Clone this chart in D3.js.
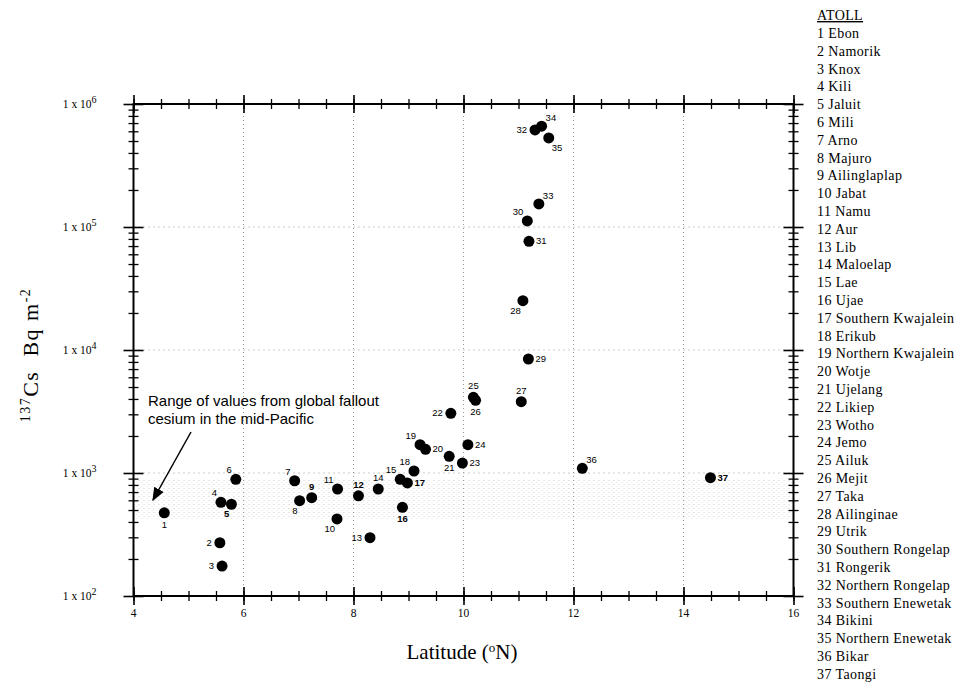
<!DOCTYPE html>
<html>
<head>
<meta charset="utf-8">
<script src="https://cdn.jsdelivr.net/npm/d3@7"></script>
<style>
  body { margin: 0; background: #fff; }
  svg text { fill: #000; }
</style>
</head>
<body>
<div id="svgContainer"></div>
<script>
// atoll number, name, latitude, 137Cs (Bq m-2)
var atollIds = d3.range(1, 38);
var atollNames = ["Ebon", "Namorik", "Knox", "Kili", "Jaluit", "Mili", "Arno", "Majuro",
    "Ailinglaplap", "Jabat", "Namu", "Aur", "Lib", "Maloelap", "Lae", "Ujae",
    "Southern Kwajalein", "Erikub", "Northern Kwajalein", "Wotje", "Ujelang", "Likiep",
    "Wotho", "Jemo", "Ailuk", "Mejit", "Taka", "Ailinginae", "Utrik", "Southern Rongelap",
    "Rongerik", "Northern Rongelap", "Southern Enewetak", "Bikini", "Northern Enewetak",
    "Bikar", "Taongi"];
var latitude = [4.56, 5.57, 5.61, 5.59, 5.78, 5.86, 6.93, 7.02, 7.24, 7.70, 7.71, 8.09,
    8.30, 8.45, 8.85, 8.89, 8.98, 9.10, 9.21, 9.31, 9.74, 9.77, 9.98, 10.08, 10.18, 10.22,
    11.05, 11.08, 11.18, 11.16, 11.19, 11.30, 11.37, 11.42, 11.55, 12.16, 14.49];
var cesium = [475, 271, 175, 578, 557, 889, 865, 596, 630, 423, 741, 653, 298, 741, 889,
    526, 830, 1038, 1698, 1559, 1367, 3057, 1205, 1698, 4120, 3899, 3800, 25200, 8450,
    112000, 76500, 615000, 154000, 660000, 530000, 1092, 916];
// side of the point where each number label sits
var labelSide = ["b", "l", "l", "tl", "bl", "tl", "tl", "bl", "t", "bl", "tl", "t", "l",
    "t", "tl", "b", "r", "tl", "tl", "r", "b", "l", "r", "r", "t", "b", "t", "bl", "r",
    "tl", "r", "l", "tr", "tr", "br", "tr", "r"];
var boldLabels = [5, 9, 12, 16, 17, 37];

var xTicks = [4, 6, 8, 10, 12, 14, 16];
var xMinorTicks = d3.range(4, 16.01, 0.5);
var yTicks = [1e2, 1e3, 1e4, 1e5, 1e6];
var yExponents = ["2", "3", "4", "5", "6"];
var rangeBand = [420, 900]; // global fallout range

var margin = {top: 104, left: 133.5},
    width = 660,
    height = 492;
var serif = "'Liberation Serif', 'Times New Roman', serif";
var sans = "'Liberation Sans', Arial, sans-serif";

var svg = d3.select("#svgContainer").append("svg")
    .attr("width", 974).attr("height", 685);

// speckle pattern for the fallout range band
var defs = svg.append("defs");
var pat = defs.append("pattern").attr("id", "speckle")
    .attr("width", 5).attr("height", 4).attr("patternUnits", "userSpaceOnUse");
pat.append("rect").attr("width", 1).attr("height", 1).attr("fill", "#b0b0b0");
pat.append("rect").attr("x", 3).attr("y", 2).attr("width", 1).attr("height", 1).attr("fill", "#d0d0d0");

var g = svg.append("g")
    .attr("transform", "translate(" + margin.left + "," + margin.top + ")");

var x = d3.scaleLinear().domain([4, 16]).range([0, width]);
var y = d3.scaleLog().domain([1e2, 1e6]).range([height, 0]);

// band
g.append("rect")
    .attr("x", 0).attr("width", width)
    .attr("y", y(rangeBand[1])).attr("height", y(rangeBand[0]) - y(rangeBand[1]))
    .attr("fill", "url(#speckle)").attr("opacity", 0.6);

// gridlines
g.selectAll(".vgrid").data(xTicks.slice(1, -1)).enter().append("line")
    .attr("x1", d => x(d)).attr("x2", d => x(d))
    .attr("y1", 0).attr("y2", height)
    .style("stroke", "#999").style("stroke-width", 1).style("stroke-dasharray", "1,3");
g.selectAll(".hgrid").data(yTicks.slice(1, -1)).enter().append("line")
    .attr("x1", 0).attr("x2", width)
    .attr("y1", d => y(d)).attr("y2", d => y(d))
    .style("stroke", "#999").style("stroke-width", 1).style("stroke-dasharray", "1,4");

// minor y ticks 2..9 per decade
var yMinor = [];
yTicks.slice(0, -1).forEach(function(d) {
    for (var k = 2; k <= 9; k++) yMinor.push(d * k);
});

function styleAxis(sel, w) {
    sel.select(".domain").remove();
    sel.selectAll("line").style("stroke", "#000").style("stroke-width", w);
    sel.selectAll("text").remove();
}

// ticks crossing both sides of each of the four axis lines
[[0, d3.axisLeft, d3.axisRight], [width, d3.axisLeft, d3.axisRight]].forEach(function(a) {
    [a[1], a[2]].forEach(function(ax) {
        g.append("g").attr("transform", "translate(" + a[0] + ",0)")
            .call(ax(y).tickValues(yTicks).tickSize(10)).call(styleAxis, 1.6);
        g.append("g").attr("transform", "translate(" + a[0] + ",0)")
            .call(ax(y).tickValues(yMinor).tickSize(5)).call(styleAxis, 1.3);
    });
});
[[0, d3.axisTop, d3.axisBottom], [height, d3.axisTop, d3.axisBottom]].forEach(function(a) {
    [a[1], a[2]].forEach(function(ax) {
        g.append("g").attr("transform", "translate(0," + a[0] + ")")
            .call(ax(x).tickValues(xTicks).tickSize(9)).call(styleAxis, 1.6);
        g.append("g").attr("transform", "translate(0," + a[0] + ")")
            .call(ax(x).tickValues(xMinorTicks).tickSize(5)).call(styleAxis, 1.3);
    });
});

// frame
g.append("rect").attr("width", width).attr("height", height)
    .attr("fill", "none").style("stroke", "#000").style("stroke-width", 2);

// y tick labels
var ylab = g.selectAll(".ylab").data(yTicks).enter().append("text")
    .attr("x", -37).attr("y", d => y(d) + 4)
    .attr("text-anchor", "end")
    .style("font-family", serif)
    .style("font-size", "11.5px");
ylab.append("tspan").text("1 x 10");
ylab.append("tspan").attr("dy", -5).style("font-size", "10px")
    .text((d, i) => yExponents[i]);

// x tick labels
g.selectAll(".xlab").data(xTicks).enter().append("text")
    .attr("x", d => x(d)).attr("y", height + 21)
    .attr("text-anchor", "middle")
    .style("font-family", serif)
    .style("font-size", "11.5px")
    .text(d => d);

// axis titles
svg.append("text")
    .attr("x", 462).attr("y", 659)
    .attr("text-anchor", "middle")
    .style("font-family", serif)
    .style("font-size", "21px")
    .html('Latitude (<tspan dy="-7" font-size="13px">o</tspan><tspan dy="7">N)</tspan>');

var yt = svg.append("text")
    .attr("transform", "translate(38,355) rotate(-90)")
    .attr("text-anchor", "middle")
    .style("font-family", serif)
    .style("font-size", "22px")
    .style("letter-spacing", "1.5px");
yt.append("tspan").attr("dy", -8).style("font-size", "14px").text("137");
yt.append("tspan").attr("dy", 8).text("Cs\u00a0\u00a0Bq m");
yt.append("tspan").attr("dy", -8).style("font-size", "14px").text("-2");

// annotation + arrow
defs.append("marker").attr("id", "arrow")
    .attr("viewBox", "0 0 10 10").attr("refX", 9).attr("refY", 5)
    .attr("markerWidth", 9).attr("markerHeight", 9).attr("orient", "auto")
    .append("path").attr("d", "M0,1 L10,5 L0,9 Z").attr("fill", "#000");
svg.append("line")
    .attr("x1", 191).attr("y1", 432).attr("x2", 153).attr("y2", 500)
    .style("stroke", "#000").style("stroke-width", 1.5)
    .attr("marker-end", "url(#arrow)");
var ann = svg.append("text")
    .attr("x", 148).attr("y", 406)
    .style("font-family", sans)
    .style("font-size", "15px");
ann.append("tspan").attr("x", 148).text("Range of values from global fallout");
ann.append("tspan").attr("x", 148).attr("dy", 18).text("cesium in the mid-Pacific");

// points
var pts = atollIds.map(function(id, i) {
    return {id: id, lat: latitude[i], cs: cesium[i], side: labelSide[i]};
});
g.selectAll(".pt").data(pts).enter().append("circle")
    .attr("cx", d => x(d.lat)).attr("cy", d => y(d.cs))
    .attr("r", 5.5).attr("fill", "#000");

var off = {
    l: [-8, 3, "end"], r: [7, 3, "start"], t: [0, -8, "middle"], b: [0, 15, "middle"],
    tl: [-4, -6, "end"], tr: [4, -5, "start"], bl: [-2, 13, "end"], br: [3, 13, "start"]
};
g.selectAll(".plab").data(pts).enter().append("text")
    .attr("x", d => x(d.lat) + off[d.side][0])
    .attr("y", d => y(d.cs) + off[d.side][1])
    .attr("text-anchor", d => off[d.side][2])
    .style("font-family", sans)
    .style("font-size", "9.5px")
    .style("font-weight", d => boldLabels.indexOf(d.id) >= 0 ? "bold" : "normal")
    .text(d => d.id);

// legend
var legX = 817;
svg.append("text").attr("x", legX).attr("y", 20)
    .style("font-family", serif)
    .style("font-size", "14px")
    .style("letter-spacing", "0.4px")
    .style("text-decoration", "underline")
    .text("ATOLL");
svg.selectAll(".leg").data(pts).enter().append("text")
    .attr("x", legX).attr("y", (d, i) => 38 + i * 17.8)
    .style("font-family", serif)
    .style("font-size", "14px")
    .style("letter-spacing", "0.4px")
    .text((d, i) => d.id + " " + atollNames[i]);
</script>
</body>
</html>
